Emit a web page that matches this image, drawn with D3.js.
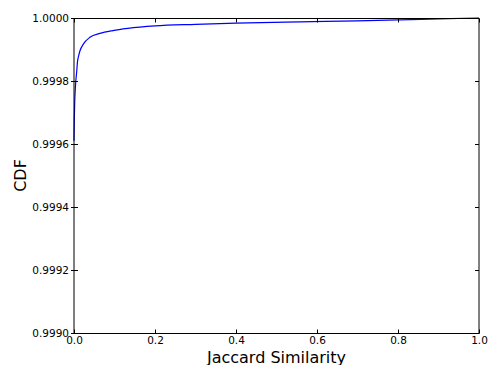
<!DOCTYPE html>
<html>
<head>
<meta charset="utf-8">
<script src="https://cdn.jsdelivr.net/npm/d3@7/dist/d3.min.js"></script>
<style>
html,body{margin:0;padding:0;background:#fff;}
svg{display:block;}
text{font-family:"DejaVu Sans",sans-serif;fill:#000;}
</style>
</head>
<body>
<svg id="chart" width="489" height="365"></svg>
<script>
const similarity = [0, 0.0008, 0.0017, 0.003, 0.0045, 0.0067, 0.0085, 0.0115, 0.0148, 0.023, 0.0395, 0.064, 0.096, 0.133, 0.2, 0.3, 0.4, 0.558, 0.7, 0.805, 0.9, 1.0];
const cdf = [0.99961, 0.99968, 0.99973, 0.99977, 0.99980, 0.99983, 0.99986, 0.99988, 0.999896, 0.999917, 0.999939, 0.999951, 0.99996, 0.999967, 0.999975, 0.99998, 0.999984, 0.999988, 0.999991, 0.999994, 0.999997, 1.0];
const xTicks = [0, 0.2, 0.4, 0.6, 0.8, 1.0];
const yTicks = [0.9990, 0.9992, 0.9994, 0.9996, 0.9998, 1.0000];
const xLabel = "Jaccard Similarity";
const yLabel = "CDF";

const svg = d3.select("#chart");
const L = 74, R = 479, T = 18, B = 333;
const x = d3.scaleLinear().domain([0, 1]).range([L, R]);
const y = d3.scaleLinear().domain([0.9990, 1.0000]).range([B, T]);

const pts = similarity.map((s, i) => [s, cdf[i]]);
const line = d3.line().x(d => x(d[0])).y(d => y(d[1])).curve(d3.curveMonotoneX);
svg.append("path").datum(pts).attr("d", line)
  .attr("fill", "none").attr("stroke", "#0000ff").attr("stroke-width", 1.2);

// frame
svg.append("rect").attr("x", L).attr("y", T + 0.5).attr("width", R - L).attr("height", B - T)
  .attr("fill", "none").attr("stroke", "#000").attr("stroke-width", 1);

const tl = 4;
const bx = svg.append("g").attr("transform", `translate(0,${B + 0.5})`)
  .call(d3.axisBottom(x).tickValues(xTicks).tickFormat(d3.format(".1f")).tickSizeInner(-tl).tickSizeOuter(0).tickPadding(3.5));
const tx = svg.append("g").attr("transform", `translate(0,${T + 0.5})`)
  .call(d3.axisTop(x).tickValues(xTicks).tickFormat("").tickSizeInner(-tl).tickSizeOuter(0));
const ly = svg.append("g").attr("transform", `translate(${L},0)`)
  .call(d3.axisLeft(y).tickValues(yTicks).tickFormat(d3.format(".4f")).tickSizeInner(-tl).tickSizeOuter(0).tickPadding(5));
const ry = svg.append("g").attr("transform", `translate(${R},0)`)
  .call(d3.axisRight(y).tickValues(yTicks).tickFormat("").tickSizeInner(-tl).tickSizeOuter(0));
[bx, tx, ly, ry].forEach(g => {
  g.select(".domain").remove();
  g.selectAll("line").attr("stroke", "#000");
  g.selectAll("text").style("font-family", "DejaVu Sans").style("font-size", "10.5px").attr("fill", "#000");
});
ly.selectAll(".tick").append("line").attr("x1", 0).attr("x2", -3).attr("stroke", "#000");

svg.append("text").attr("x", (L + R) / 2).attr("y", 362.5).attr("text-anchor", "middle")
  .style("font-size", "16px").text(xLabel);
svg.append("text").attr("transform", `translate(26,${(T + B) / 2}) rotate(-90)`).attr("text-anchor", "middle")
  .style("font-size", "16px").text(yLabel);
</script>
</body>
</html>
